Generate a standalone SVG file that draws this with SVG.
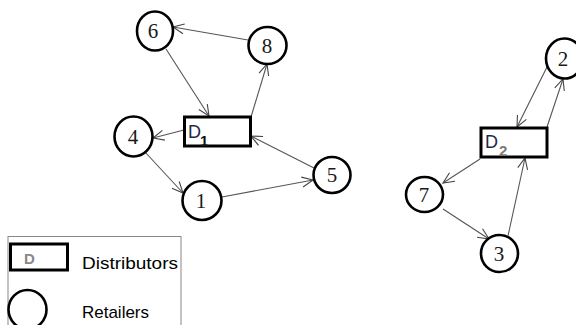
<svg xmlns="http://www.w3.org/2000/svg" width="576" height="325" viewBox="0 0 576 325">
  <defs>
    <marker id="arr" markerUnits="userSpaceOnUse" markerWidth="14" markerHeight="14" refX="11" refY="5" orient="auto" overflow="visible">
      <path d="M0,0 L11,5 L0,10" fill="none" stroke="#444" stroke-width="1.1"/>
    </marker>
  </defs>
  <style>
    .node ellipse { fill: #fff; stroke: #000; stroke-width: 2.6; }
    .node rect { fill: #fff; stroke: #000; stroke-width: 3; }
    .num { font-family: "Liberation Serif", "Times New Roman", serif; font-size: 21px; fill: #1a1a1a; text-anchor: middle; }
    .dl { font-family: "Liberation Sans", Arial, sans-serif; font-size: 18px; fill: #1c2a48; }
    .sub { font-family: "Liberation Sans", Arial, sans-serif; font-size: 15px; font-weight: bold; }
    .leg { font-family: "Liberation Sans", Arial, sans-serif; font-size: 17px; fill: #000; }
    #edges line { stroke: #555; stroke-width: 1.1; marker-end: url(#arr); }
  </style>
  <rect width="576" height="325" fill="#fff"/>

  <g id="edges">
    <line x1="248" y1="40" x2="173" y2="27"/>
    <line x1="166" y1="49" x2="209" y2="116"/>
    <line x1="251" y1="117" x2="267" y2="64"/>
    <line x1="184" y1="130" x2="153" y2="138"/>
    <line x1="145" y1="152" x2="183" y2="193"/>
    <line x1="222" y1="197" x2="313" y2="180"/>
    <line x1="314" y1="168" x2="251" y2="136"/>
    <line x1="547" y1="67" x2="517" y2="127"/>
    <line x1="547" y1="127" x2="563" y2="79"/>
    <line x1="480" y1="159" x2="443" y2="183"/>
    <line x1="443" y1="209" x2="489" y2="239"/>
    <line x1="508" y1="236" x2="525" y2="158"/>
  </g>

  <g id="n6" class="node"><ellipse cx="155" cy="31" rx="18" ry="19.5"/><text class="num" x="153" y="38">6</text></g>
  <g id="n8" class="node"><ellipse cx="267.5" cy="45.5" rx="19" ry="18.5"/><text class="num" x="267" y="53">8</text></g>
  <g id="n4" class="node"><ellipse cx="133.5" cy="136.5" rx="19" ry="20"/><text class="num" x="133" y="144">4</text></g>
  <g id="n1" class="node"><ellipse cx="202" cy="200.5" rx="19.5" ry="19.5"/><text class="num" x="201" y="208">1</text></g>
  <g id="n5" class="node"><ellipse cx="332" cy="175" rx="18.5" ry="18"/><text class="num" x="332" y="182">5</text></g>
  <g id="D1" class="node"><rect x="184.5" y="117" width="66" height="29"/><text class="dl" x="188" y="138">D</text><text class="sub" x="200" y="145.5" fill="#111">1</text></g>

  <g id="n2" class="node"><ellipse cx="564.5" cy="58.5" rx="18.5" ry="20"/><text class="num" x="563" y="66">2</text></g>
  <g id="D2" class="node"><rect x="481" y="128" width="66" height="29"/><text class="dl" x="485" y="148">D</text><text class="sub" x="499" y="155.5" fill="#7a7a7a">2</text></g>
  <g id="n7" class="node"><ellipse cx="424.5" cy="194.5" rx="18.5" ry="17.5"/><text class="num" x="424" y="202">7</text></g>
  <g id="n3" class="node"><ellipse cx="499.5" cy="253.5" rx="18.5" ry="18.5"/><text class="num" x="499" y="261">3</text></g>

  <g id="legend">
    <rect x="8" y="236.5" width="173" height="100" fill="none" stroke="#888" stroke-width="1"/>
    <rect x="10.5" y="244" width="57" height="26" fill="#fff" stroke="#000" stroke-width="3"/>
    <text x="24" y="264" font-family="Liberation Sans, Arial, sans-serif" font-size="15" font-weight="bold" fill="#888">D</text>
    <text class="leg" x="82" y="269" textLength="96" lengthAdjust="spacingAndGlyphs">Distributors</text>
    <ellipse cx="27.5" cy="309.5" rx="19" ry="19.5" fill="#fff" stroke="#000" stroke-width="2.6"/>
    <text class="leg" x="82" y="318" textLength="67" lengthAdjust="spacingAndGlyphs">Retailers</text>
  </g>
</svg>
